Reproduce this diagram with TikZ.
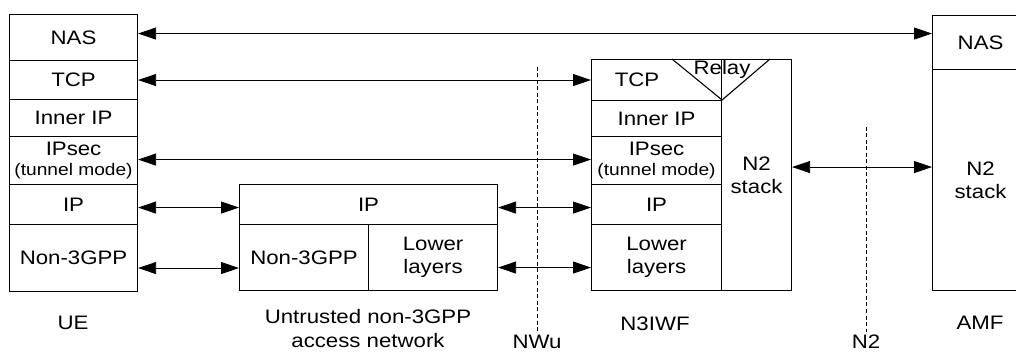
\documentclass[tikz,border=0pt]{standalone}
\usepackage{fontspec}
\setmainfont{Liberation Sans}[FakeStretch=1.14]
\usetikzlibrary{arrows.meta,positioning}

\begin{document}
\begin{tikzpicture}[
  x=1pt, y=-1pt,
  layer/.style={draw, rectangle, line width=1.1pt, inner sep=0pt, anchor=north west, align=center, font=\fontsize{19.5}{23}\selectfont},
  plain/.style={font=\fontsize{19.5}{24}\selectfont, align=center},
  link/.style={{Triangle[length=18pt,width=12pt]}-{Triangle[length=18pt,width=12pt]}, line width=0.8pt},
  iface/.style={dashed, line width=0.6pt, dash pattern=on 4pt off 2.5pt}
]
\useasboundingbox (0,0) rectangle (1016,352);
\clip (0,0) rectangle (1016,352);

% UE protocol stack
\node[layer, minimum width=128pt, minimum height=46pt] (ue-nas) at (9,14) {NAS};
\node[layer, minimum width=128pt, minimum height=39pt] (ue-tcp) at (9,60) {TCP};
\node[layer, minimum width=128pt, minimum height=37pt] (ue-inner) at (9,99) {Inner IP};
\node[layer, minimum width=128pt, minimum height=48pt] (ue-ipsec) at (9,136) {IPsec\\[-3pt]{\fontsize{16.8}{18}\selectfont (tunnel mode)}};
\node[layer, minimum width=128pt, minimum height=40pt] (ue-ip) at (9,184) {IP};
\node[layer, minimum width=128pt, minimum height=67pt] (ue-l2) at (9,224) {Non-3GPP};

% Untrusted access network
\node[layer, minimum width=258pt, minimum height=40pt] (an-ip) at (239,184) {IP};
\node[layer, minimum width=129pt, minimum height=66pt] (an-n3gpp) at (239,224) {Non-3GPP};
\node[layer, minimum width=129pt, minimum height=66pt] (an-low) at (368,224) {Lower\\layers};

% N3IWF protocol stack
\node[layer, minimum width=130pt, minimum height=41pt] (n3-tcp) at (591,59) {};
\node[plain] (n3-tcptxt) at (637,80) {TCP};
\node[layer, minimum width=130pt, minimum height=36pt] (n3-inner) at (591,100) {Inner IP};
\node[layer, minimum width=130pt, minimum height=48pt] (n3-ipsec) at (591,136) {IPsec\\[-3pt]{\fontsize{16.8}{18}\selectfont (tunnel mode)}};
\node[layer, minimum width=130pt, minimum height=40pt] (n3-ip) at (591,184) {IP};
\node[layer, minimum width=130pt, minimum height=66pt] (n3-low) at (591,224) {Lower\\layers};
\node[layer, minimum width=70pt, minimum height=231pt] (n3-n2) at (721,59) {N2\\stack};
\draw[line width=1.1pt] (672,59) -- (n3-tcp.north east |- n3-inner.north) -- (770,59);
\node[plain] (relay) at (722,69) {Relay};

% AMF protocol stack
\node[layer, minimum width=96pt, minimum height=54pt] (amf-nas) at (932,15) {NAS};
\node[layer, minimum width=96pt, minimum height=221pt] (amf-n2) at (932,69) {N2\\stack};

% Peer links
\draw[link] ([yshift=4pt]ue-nas.east) -- ([yshift=4pt]ue-nas.east -| amf-nas.west);
\draw[link] (ue-tcp.east) -- (ue-tcp.east -| n3-tcp.west);
\draw[link] ([yshift=1pt]ue-ipsec.east) -- ([yshift=1pt]ue-ipsec.east -| n3-ipsec.west);
\draw[link] ([yshift=-3pt]ue-ip.east) -- ([yshift=-3pt]ue-ip.east -| an-ip.west);
\draw[link] ([yshift=-3pt]an-ip.east) -- ([yshift=-3pt]an-ip.east -| n3-ip.west);
\draw[link] ([yshift=-10pt]ue-l2.east) -- ([yshift=-10pt]ue-l2.east -| an-n3gpp.west);
\draw[link] ([yshift=-10pt]an-low.east) -- ([yshift=-10pt]an-low.east -| n3-low.west);
\draw[link] ([yshift=8pt]n3-n2.east) -- ([yshift=8pt]n3-n2.east -| amf-n2.west);

% Reference points
\node[plain] (nwu) at (537,342) {NWu};
\node[plain] (n2) at (866,342) {N2};
\coordinate (nwu-top) at (537,67);
\coordinate (n2-top) at (866,127);
\draw[iface] (nwu-top) -- (nwu.north);
\draw[iface] (n2-top) -- (n2.north);

% Entity names
\node[plain] (ue) at (73,323) {UE};
\node[plain] (an) at (368,329) {Untrusted non-3GPP\\access network};
\node[plain] (n3iwf) at (655,324) {N3IWF};
\node[plain] (amf) at (980,323) {AMF};
\end{tikzpicture}
\end{document}
